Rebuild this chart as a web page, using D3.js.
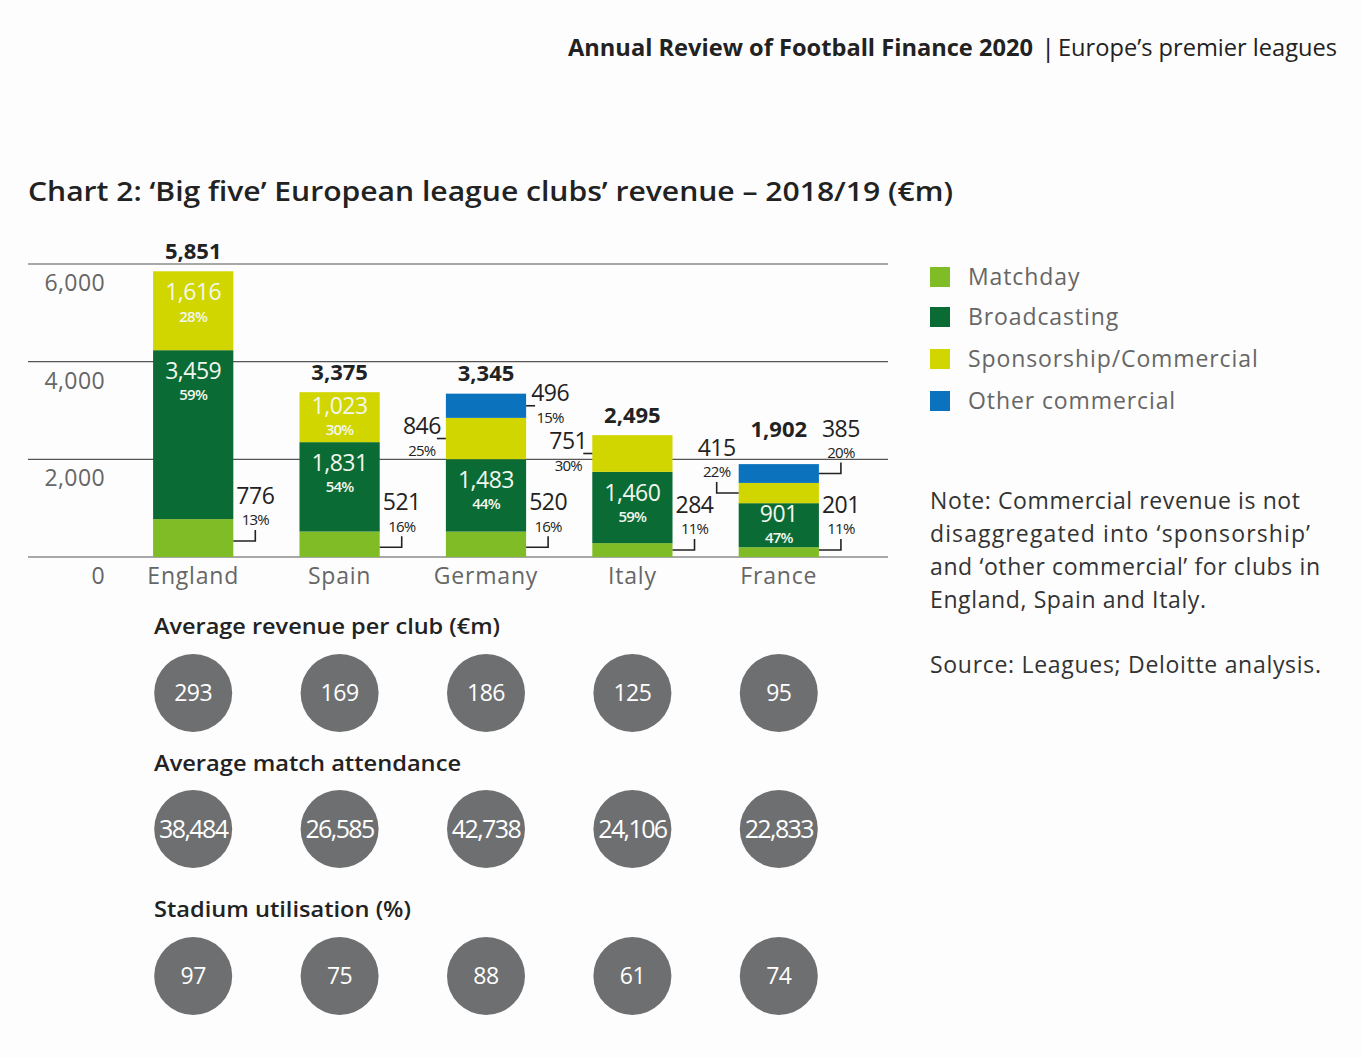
<!DOCTYPE html>
<html>
<head>
<meta charset="utf-8">
<script src="https://cdn.jsdelivr.net/npm/d3@7"></script>
<style>
  html, body { margin: 0; padding: 0; background: #fdfdfd; }
  svg { display: block; font-family: "Open Sans", "Noto Sans", sans-serif; }
</style>
</head>
<body>
<svg id="chart" width="1362" height="1058"></svg>
<script>
// ---------- data ----------
const categories = ["England", "Spain", "Germany", "Italy", "France"];
const seriesNames = ["Matchday", "Broadcasting", "Sponsorship/Commercial", "Other commercial"];
const matchday = [776, 521, 520, 284, 201];
const broadcasting = [3459, 1831, 1483, 1460, 901];
const sponsorship = [1616, 1023, 846, 751, 415];
const otherCommercial = [0, 0, 496, 0, 385];
const totals = [5851, 3375, 3345, 2495, 1902];
const matchdayPct = ["13%", "16%", "16%", "11%", "11%"];
const broadcastingPct = ["59%", "54%", "44%", "59%", "47%"];
const sponsorshipPct = ["28%", "30%", "25%", "30%", "22%"];
const otherPct = [null, null, "15%", null, "20%"];
const yTicks = [0, 2000, 4000, 6000];
const avgRevenue = [293, 169, 186, 125, 95];
const avgAttendance = [38484, 26585, 42738, 24106, 22833];
const utilisation = [97, 75, 88, 61, 74];
const noteLines = [
  "Note: Commercial revenue is not",
  "disaggregated into \u2018sponsorship\u2019",
  "and \u2018other commercial\u2019 for clubs in",
  "England, Spain and Italy."
];
const sourceText = "Source: Leagues; Deloitte analysis.";

// ---------- styling ----------
const colors = ["#80bc26", "#0b6b35", "#d1d600", "#0b73be"];
const circleColor = "#6e6f71";
const fmt = d3.format(",");

const svg = d3.select("#chart");

// header
svg.append("text").attr("x", 568).attr("y", 56)
  .attr("font-size", 24).attr("font-weight", 700).attr("fill", "#222")
  .attr("textLength", 465).attr("lengthAdjust", "spacingAndGlyphs")
  .text("Annual Review of Football Finance 2020");
svg.append("text").attr("x", 1041).attr("y", 57)
  .attr("font-size", 26).attr("font-weight", 400).attr("fill", "#222").text("|");
svg.append("text").attr("x", 1058).attr("y", 56)
  .attr("font-size", 24).attr("font-weight", 400).attr("fill", "#222")
  .attr("textLength", 279).attr("lengthAdjust", "spacingAndGlyphs")
  .text("Europe\u2019s premier leagues");

// title
svg.append("text").attr("x", 28).attr("y", 201)
  .attr("font-size", 27).attr("font-weight", 600).attr("fill", "#222")
  .attr("textLength", 925).attr("lengthAdjust", "spacingAndGlyphs")
  .text("Chart 2: \u2018Big five\u2019 European league clubs\u2019 revenue \u2013 2018/19 (\u20acm)");

// scales
const x = d3.scaleBand().domain(categories).range([120, 852])
  .paddingInner(0.452).paddingOuter(0.226);
const y = d3.scaleLinear().domain([0, 6000]).range([557, 264]);

// gridlines + y labels
const grid = svg.append("g");
grid.selectAll("line").data(yTicks).join("line")
  .attr("x1", 28).attr("x2", 888)
  .attr("y1", d => y(d)).attr("y2", d => y(d))
  .attr("stroke", "#555").attr("stroke-width", 1.2);
grid.selectAll("text").data(yTicks).join("text")
  .attr("x", 105).attr("y", d => y(d) + 19).attr("dy", "0.35em")
  .attr("text-anchor", "end").attr("font-size", 23).attr("fill", "#666")
  .attr("letter-spacing", 0.4)
  .text(d => fmt(d));

// category labels
svg.append("g").selectAll("text").data(categories).join("text")
  .attr("x", d => x(d) + x.bandwidth() / 2).attr("y", 576).attr("dy", "0.35em")
  .attr("text-anchor", "middle").attr("font-size", 23).attr("fill", "#666")
  .attr("letter-spacing", 0.8)
  .text(d => d);

// stacked data
const rows = categories.map((c, i) => ({
  cat: c,
  Matchday: matchday[i],
  Broadcasting: broadcasting[i],
  "Sponsorship/Commercial": sponsorship[i],
  "Other commercial": otherCommercial[i]
}));
const stack = d3.stack().keys(seriesNames)(rows);

const barsG = svg.append("g");
barsG.selectAll("g").data(stack).join("g")
  .attr("fill", (d, i) => colors[i])
  .selectAll("rect").data(d => d.filter(s => s[1] > s[0])).join("rect")
  .attr("x", d => x(d.data.cat)).attr("width", x.bandwidth())
  .attr("y", d => y(d[1])).attr("height", d => y(d[0]) - y(d[1]));

// label helpers
const ann = svg.append("g");
const insideCommercial = { England: true, Spain: true };

function inside(i, seriesIdx, value, pct) {
  const seg = stack[seriesIdx][i];
  const top = y(seg[1]), bot = y(seg[0]);
  const h = bot - top;
  const cx = x(categories[i]) + x.bandwidth() / 2;
  let vy, py;
  if (h < 60) { const m = (top + bot) / 2; vy = m - 11; py = m + 13; }
  else { vy = top + 21; py = top + 45; }
  ann.append("text").attr("x", cx).attr("y", vy).attr("dy", "0.35em")
    .attr("text-anchor", "middle").attr("font-size", 23).attr("fill", "#f2f7ee")
    .attr("letter-spacing", -0.5).text(fmt(value));
  ann.append("text").attr("x", cx).attr("y", py).attr("dy", "0.35em")
    .attr("text-anchor", "middle").attr("font-size", 15).attr("font-weight", 600)
    .attr("fill", "#f2f7ee").attr("letter-spacing", -0.8).text(pct);
}

function outside(i, seriesIdx, value, pct, side, style) {
  const seg = stack[seriesIdx][i];
  const mid = (y(seg[0]) + y(seg[1])) / 2;
  const edge = side === "right" ? x(categories[i]) + x.bandwidth() : x(categories[i]);
  const dir = side === "right" ? 1 : -1;
  let lx, vy, py, path;
  if (style === "bracket") {
    const by = seriesIdx === 0 ? Math.min(mid + 3, 550) : mid;
    const ex = edge + dir * 22;
    path = `M${edge},${by}H${ex}V${by - 11}`;
    lx = ex; py = by - 21; vy = by - 45;
  } else {
    const ex = edge + dir * 9;
    path = `M${edge},${mid}H${ex}`;
    lx = edge + dir * 24; vy = mid - 13; py = mid + 12;
  }
  ann.append("path").attr("d", path).attr("fill", "none")
    .attr("stroke", "#222").attr("stroke-width", 1.6);
  ann.append("text").attr("x", lx).attr("y", vy).attr("dy", "0.35em")
    .attr("text-anchor", "middle").attr("font-size", 23).attr("fill", "#222")
    .attr("letter-spacing", -0.5).text(fmt(value));
  ann.append("text").attr("x", lx).attr("y", py).attr("dy", "0.35em")
    .attr("text-anchor", "middle").attr("font-size", 15).attr("fill", "#222")
    .attr("letter-spacing", -0.8).text(pct);
  return vy;
}

categories.forEach((c, i) => {
  const cx = x(c) + x.bandwidth() / 2;
  outside(i, 0, matchday[i], matchdayPct[i], "right", "bracket");
  inside(i, 1, broadcasting[i], broadcastingPct[i]);
  const hasOther = otherCommercial[i] > 0;
  if (insideCommercial[c]) {
    inside(i, 2, sponsorship[i], sponsorshipPct[i]);
  } else {
    outside(i, 2, sponsorship[i], sponsorshipPct[i], "left", hasOther && c === "France" ? "bracket" : "tick");
  }
  let totalY = y(totals[i]) - 20;
  if (hasOther) {
    const style = c === "France" ? "bracket" : "tick";
    const vy = outside(i, 3, otherCommercial[i], otherPct[i], "right", style);
    if (style === "bracket") totalY = Math.min(totalY, vy + 1);
  }
  ann.append("text").attr("x", cx).attr("y", totalY).attr("dy", "0.35em")
    .attr("text-anchor", "middle").attr("font-size", 22).attr("font-weight", 700)
    .attr("fill", "#222").text(fmt(totals[i]));
});

// legend
const legend = svg.append("g");
const legendY = [277, 317, 359, 401];
seriesNames.forEach((s, i) => {
  legend.append("rect").attr("x", 930).attr("y", legendY[i] - 10)
    .attr("width", 20).attr("height", 20).attr("fill", colors[i]);
  legend.append("text").attr("x", 968).attr("y", legendY[i]).attr("dy", "0.35em")
    .attr("font-size", 23).attr("fill", "#666").attr("letter-spacing", 0.9)
    .text(s);
});

// note
const noteG = svg.append("g");
const noteWidths = [370, 380, 390, 276];
noteLines.forEach((t, i) => {
  noteG.append("text").attr("x", 930).attr("y", 501 + i * 33).attr("dy", "0.35em")
    .attr("font-size", 23).attr("fill", "#333")
    .attr("textLength", noteWidths[i]).attr("lengthAdjust", "spacing")
    .text(t);
});
noteG.append("text").attr("x", 930).attr("y", 665).attr("dy", "0.35em")
  .attr("font-size", 23).attr("fill", "#333")
  .attr("textLength", 391).attr("lengthAdjust", "spacing")
  .text(sourceText);

// circle rows
const rowDefs = [
  { title: "Average revenue per club (\u20acm)", titleY: 626, cy: 693, values: avgRevenue, len: 346, fs: 23, ls: -0.5 },
  { title: "Average match attendance", titleY: 763, cy: 829, values: avgAttendance, len: 307, fs: 25, ls: -1.6 },
  { title: "Stadium utilisation (%)", titleY: 909, cy: 976, values: utilisation, len: 257, fs: 23, ls: -0.5 }
];
rowDefs.forEach(r => {
  svg.append("text").attr("x", 154).attr("y", r.titleY).attr("dy", "0.35em")
    .attr("font-size", 22).attr("font-weight", 600).attr("fill", "#222")
    .attr("textLength", r.len).attr("lengthAdjust", "spacingAndGlyphs")
    .text(r.title);
  const g = svg.append("g");
  g.selectAll("circle").data(categories).join("circle")
    .attr("cx", d => x(d) + x.bandwidth() / 2).attr("cy", r.cy).attr("r", 39)
    .attr("fill", circleColor);
  g.selectAll("text").data(categories).join("text")
    .attr("x", d => x(d) + x.bandwidth() / 2).attr("y", r.cy).attr("dy", "0.35em")
    .attr("text-anchor", "middle").attr("font-size", r.fs).attr("fill", "#fff")
    .attr("letter-spacing", r.ls)
    .text((d, i) => fmt(r.values[i]));
});
</script>
</body>
</html>
